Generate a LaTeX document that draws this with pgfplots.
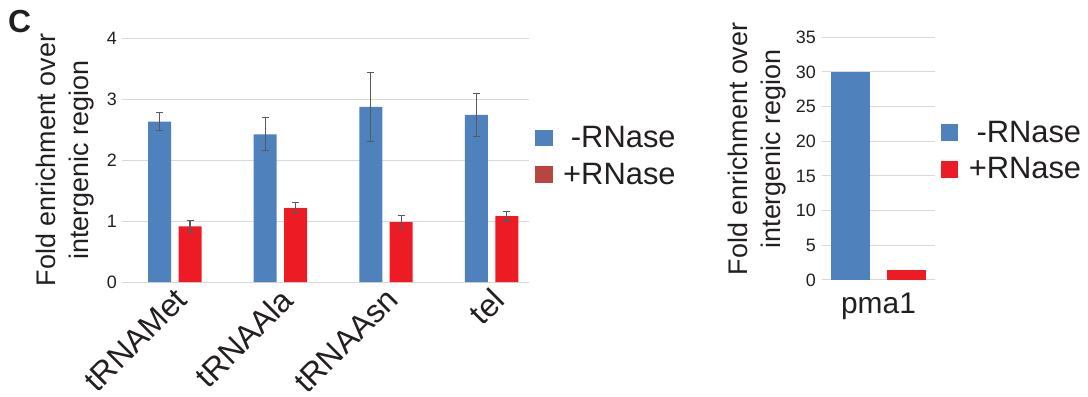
\documentclass[border=0pt]{standalone}
\usepackage{pgfplots}
\pgfplotsset{compat=1.18}
\usepackage{pgfplotstable}
\usepackage{fontspec}
\setmainfont{Liberation Sans}
\definecolor{barblue}{HTML}{4F81BD}
\definecolor{barred}{HTML}{ED1C24}
\definecolor{legred}{HTML}{B8453F}
\definecolor{gridgray}{HTML}{D9D9D9}
\definecolor{errgray}{HTML}{595959}
\definecolor{txt}{HTML}{231F20}

\pgfplotstableread{
x  b     be    r     re
0  2.63  0.15  0.91  0.10
1  2.42  0.27  1.21  0.09
2  2.87  0.56  0.98  0.11
3  2.74  0.35  1.08  0.08
}\tabtrna

\pgfplotstableread{
x  b     r
0  30.0  1.5
}\tabpma

\newcommand{\minusentry}{\hphantom{+}\llap{-}RNase}

\pgfplotsset{
  common/.style={
    scale only axis,
    clip=false,
    axis line style={draw=none},
    major tick length=0pt,
    ymajorgrids,
    grid style={color=gridgray, line width=1bp},
    /pgf/number format/assume math mode=true,
    yticklabel style={font=\fontsize{18}{20}\selectfont, text=txt, inner sep=0pt, xshift=-5bp},
    ylabel style={font=\fontsize{27}{34}\selectfont, text=txt, align=center},
    legend style={draw=none, fill=none, inner sep=0pt, font=\fontsize{31}{34}\selectfont,
      text=txt, row sep=14bp, column sep=11bp, nodes={inner sep=0pt}},
  },
  errs/.style={
    error bars/.cd, y dir=both, y explicit,
    error bar style={color=errgray, line width=1.1bp},
    error mark options={rotate=90, mark size=3.5bp, color=errgray, line width=1.1bp},
  },
}

\begin{document}
\begin{tikzpicture}
\path[use as bounding box] (0,0) rectangle (1088bp,397bp);
\node[anchor=base west, inner sep=0pt, text=txt] at (8bp,364bp) {\fontsize{32}{34}\selectfont\bfseries C};

% left chart
\begin{axis}[common,
  at={(122bp,115bp)}, anchor=south west,
  width=407bp, height=244bp,
  xmin=-0.5, xmax=3.354, ymin=0, ymax=4,
  ytick={0,1,2,3,4},
  xtick={0,1,2,3},
  xticklabels={tRNAMet,tRNAAla,tRNAAsn,tel},
  xticklabel style={font=\fontsize{32}{34}\selectfont, text=txt, rotate=45, anchor=north east, inner sep=0pt, xshift=-4bp, yshift=-2bp},
  ylabel={Fold enrichment over\\intergenic region},
  ylabel style={at={(axis description cs:-0.14,0.5)}, anchor=center},
  legend style={at={(axis description cs:1.015,0.516)}, anchor=west},
]
\addplot[ybar, bar width=0.218, bar shift=0, fill=barblue, draw=none, forget plot, errs]
  table[x expr=\thisrow{x}-0.144, y=b, y error=be] {\tabtrna};
\addplot[ybar, bar width=0.218, bar shift=0, fill=barred, draw=none, forget plot, errs]
  table[x expr=\thisrow{x}+0.144, y=r, y error=re] {\tabtrna};
\addlegendimage{legend image code/.code={\fill[barblue] (0bp,-7.8bp) rectangle (16.5bp,7.8bp);}}
\addlegendentry{\minusentry}
\addlegendimage{legend image code/.code={\fill[legred] (0bp,-7.8bp) rectangle (16.5bp,7.8bp);}}
\addlegendentry{+RNase}
\end{axis}

% right chart
\begin{axis}[common,
  at={(822bp,117bp)}, anchor=south west,
  width=113bp, height=242.7bp,
  xmin=-0.5, xmax=0.5, ymin=0, ymax=35,
  ytick={0,5,10,15,20,25,30,35},
  xtick={0},
  xticklabels={pma1},
  xticklabel style={font=\fontsize{30}{32}\selectfont, text=txt, anchor=north, inner sep=0pt, yshift=-13bp},
  yticklabel style={xshift=-1bp},
  ylabel={Fold enrichment over\\intergenic region},
  ylabel style={at={(axis description cs:-0.575,0.54)}, anchor=center},
  legend style={at={(axis description cs:1.05,0.533)}, anchor=west},
]
\addplot[ybar, bar width=0.345, bar shift=0, fill=barblue, draw=none, forget plot]
  table[x expr=\thisrow{x}-0.247, y=b] {\tabpma};
\addplot[ybar, bar width=0.345, bar shift=0, fill=barred, draw=none, forget plot]
  table[x expr=\thisrow{x}+0.252, y=r] {\tabpma};
\addlegendimage{legend image code/.code={\fill[barblue] (0bp,-7.8bp) rectangle (16.5bp,7.8bp);}}
\addlegendentry{\minusentry}
\addlegendimage{legend image code/.code={\fill[barred] (0bp,-7.8bp) rectangle (16.5bp,7.8bp);}}
\addlegendentry{+RNase}
\end{axis}
\end{tikzpicture}
\end{document}
